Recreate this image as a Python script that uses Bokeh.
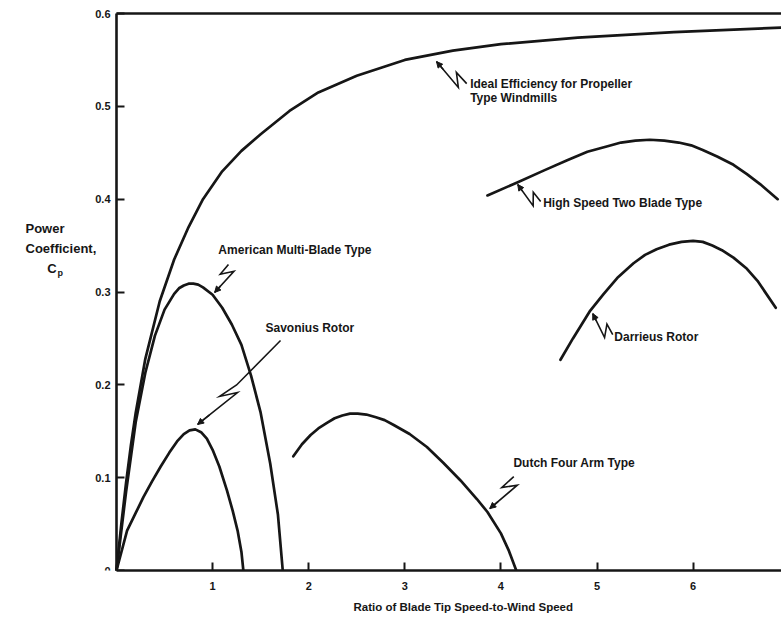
import math
from bokeh.plotting import figure
from bokeh.models import Range1d, FixedTicker, Label, Arrow, NormalHead, Title
from bokeh.embed import file_html
from bokeh.resources import INLINE

# ---------------- data ----------------
ideal_x = [0.0, 0.05, 0.1, 0.15, 0.2, 0.3, 0.45, 0.6, 0.75, 0.9, 1.1, 1.3, 1.5, 1.8, 2.1, 2.5, 3.0, 3.5, 4.0, 4.8, 5.8, 6.95]
ideal_y = [0.0, 0.05, 0.095, 0.135, 0.17, 0.228, 0.29, 0.335, 0.37, 0.40, 0.43, 0.452, 0.47, 0.495, 0.515, 0.533, 0.55, 0.56, 0.567, 0.574, 0.58, 0.585]

american_x = [0.0, 0.1, 0.2, 0.3, 0.4, 0.5, 0.6, 0.65, 0.7, 0.75, 0.8, 0.85, 0.9, 1.0, 1.1, 1.2, 1.3, 1.4, 1.5, 1.6, 1.68, 1.73]
american_y = [0.0, 0.085, 0.16, 0.213, 0.253, 0.281, 0.298, 0.304, 0.307, 0.309, 0.309, 0.308, 0.305, 0.297, 0.283, 0.265, 0.243, 0.21, 0.17, 0.115, 0.06, 0.0]

savonius_x = [0.0, 0.11, 0.2, 0.28, 0.37, 0.46, 0.55, 0.63, 0.7, 0.76, 0.82, 0.88, 0.94, 1.0, 1.07, 1.15, 1.21, 1.26, 1.3, 1.32]
savonius_y = [0.0, 0.043, 0.062, 0.079, 0.096, 0.112, 0.127, 0.139, 0.147, 0.151, 0.152, 0.149, 0.142, 0.13, 0.112, 0.086, 0.064, 0.043, 0.02, 0.0]

dutch_x = [1.84, 1.93, 2.02, 2.1, 2.19, 2.27, 2.35, 2.43, 2.51, 2.6, 2.7, 2.79, 2.88, 3.05, 3.23, 3.4, 3.58, 3.75, 3.86, 4.0, 4.08, 4.16]
dutch_y = [0.123, 0.136, 0.146, 0.153, 0.159, 0.164, 0.167, 0.169, 0.169, 0.168, 0.165, 0.162, 0.157, 0.147, 0.133, 0.116, 0.097, 0.077, 0.063, 0.04, 0.022, 0.0]

twoblade_x = [3.86, 4.17, 4.45, 4.69, 4.9, 5.11, 5.25, 5.4, 5.55, 5.7, 5.85, 5.98, 6.1, 6.25, 6.42, 6.56, 6.7, 6.88]
twoblade_y = [0.404, 0.418, 0.431, 0.442, 0.451, 0.457, 0.461, 0.463, 0.464, 0.463, 0.461, 0.458, 0.453, 0.446, 0.437, 0.427, 0.416, 0.40]

darrieus_x = [4.62, 4.75, 4.93, 5.07, 5.21, 5.38, 5.5, 5.62, 5.75, 5.88, 6.0, 6.1, 6.2, 6.3, 6.42, 6.56, 6.67, 6.86]
darrieus_y = [0.227, 0.25, 0.28, 0.298, 0.315, 0.331, 0.34, 0.346, 0.351, 0.354, 0.355, 0.354, 0.35, 0.345, 0.337, 0.325, 0.312, 0.283]

x_ticks = [1, 2, 3, 4, 5, 6]
y_ticks = [0.0, 0.1, 0.2, 0.3, 0.4, 0.5, 0.6]
y_tick_labels = ["0", "0.1", "0.2", "0.3", "0.4", "0.5", "0.6"]

x_title = "Ratio of Blade Tip Speed-to-Wind Speed"
y_title_lines = ["Power", "Coefficient,"]
y_title_symbol = ("C", "p")

label_text = ["Ideal Efficiency for Propeller", "Type Windmills", "High Speed Two Blade Type",
              "Darrieus Rotor", "American Multi-Blade Type", "Savonius Rotor", "Dutch Four Arm Type"]
label_x = [3.68, 3.68, 4.44, 5.18, 1.06, 1.55, 4.13]
label_y = [0.5245, 0.5085, 0.3955, 0.251, 0.345, 0.261, 0.1153]

# leader (squiggle arrow) tips and tails, data coordinates
leader_tip = [(3.33, 0.5482), (4.175, 0.4158), (4.956, 0.2768), (1.021, 0.2995), (0.844, 0.1573), (3.884, 0.0667)]
leader_tail = [(3.644, 0.5245), (4.414, 0.3975), (5.164, 0.2542), (1.165, 0.3297), (1.707, 0.2478), (4.134, 0.1012)]
shape_short = [(0.0, 0.0), (0.88, 8.0), (0.6, -3.0), (1.0, 0.0)]
shape_long = [(0.0, 0.0), (0.43, 6.0), (0.3, -4.0), (0.47, 0.0), (1.0, 0.0)]
leader_shape = [shape_short, shape_short, shape_short, shape_short, shape_long, shape_short]

# ---------------- layout ----------------
W, H = 781, 621
BL, BT, BB = 24, 0, 51
ORIGIN_X, ORIGIN_Y, TOP_Y = 116, 570, 13      # canvas px of data origin and of y = 0.6
PXX = 96.1                                    # px per unit x
PXY = (ORIGIN_Y - TOP_Y) / 0.6                # px per unit y
X0 = -(ORIGIN_X - BL) / PXX
X_MAX = X0 + (W - BL) / PXX
Y_TOP = 0.6 + (TOP_Y - BT) / PXY

INK = "#161616"
FONT = "Liberation Sans"

p = figure(width=W, height=H, x_range=Range1d(X0, X_MAX), y_range=Range1d(0, Y_TOP),
           output_backend="svg", toolbar_location=None,
           min_border_left=BL, min_border_right=0, min_border_top=BT, min_border_bottom=BB)
p.outline_line_color = None
p.grid.visible = False
p.background_fill_color = "white"
p.border_fill_color = "white"

for ax in (p.xaxis[0], p.yaxis[0]):
    ax.axis_line_width = 2.6
    ax.axis_line_color = INK
    ax.major_tick_in = 8
    ax.major_tick_out = 0
    ax.major_tick_line_width = 2
    ax.major_tick_line_color = INK
    ax.minor_tick_line_color = None
    ax.major_label_text_font = FONT
    ax.major_label_text_font_style = "bold"
    ax.major_label_text_font_size = "11px"
    ax.major_label_text_color = INK

p.xaxis.ticker = FixedTicker(ticks=x_ticks)
p.xaxis.major_label_standoff = 11
p.xaxis.bounds = (0, X_MAX)
p.yaxis.ticker = FixedTicker(ticks=y_ticks)
# the "0" label sits on the frame edge, so it is drawn just above it as a Label below
p.yaxis.major_label_overrides = {t: (s if t != 0 else "") for t, s in zip(y_ticks, y_tick_labels)}
p.yaxis.major_label_standoff = 6
p.yaxis.fixed_location = 0
p.yaxis.bounds = (0, 0.6)
p.add_layout(Label(x=0, y=y_ticks[0], x_offset=-6, text=y_tick_labels[0], text_font=FONT,
                   text_font_style="bold", text_font_size="11px", text_color=INK,
                   text_align="right", text_baseline="alphabetic"))

# top frame line
p.segment(x0=[0], y0=[0.6], x1=[X_MAX], y1=[0.6], line_color=INK, line_width=2.6)

for xs, ys in [(ideal_x, ideal_y), (american_x, american_y), (savonius_x, savonius_y),
               (dutch_x, dutch_y), (twoblade_x, twoblade_y), (darrieus_x, darrieus_y)]:
    p.line(xs, ys, line_color=INK, line_width=2.7, line_join="round", line_cap="round")

# squiggle leaders
lead_xs, lead_ys = [], []
for (tx, ty), (ex, ey), shape in zip(leader_tip, leader_tail, leader_shape):
    ax_, ay_ = tx * PXX, -ty * PXY
    bx_, by_ = ex * PXX, -ey * PXY
    dx, dy = bx_ - ax_, by_ - ay_
    L = math.hypot(dx, dy)
    nx, ny = -dy / L, dx / L
    px_, py_ = [], []
    for t, s in shape:
        X = ax_ + t * dx + s * nx
        Y = ay_ + t * dy + s * ny
        px_.append(X / PXX)
        py_.append(-Y / PXY)
    lead_xs.append(px_)
    lead_ys.append(py_)
    hx, hy = px_[0] + 0.3 * (px_[1] - px_[0]), py_[0] + 0.3 * (py_[1] - py_[0])
    p.add_layout(Arrow(end=NormalHead(size=6, fill_color=INK, line_color=INK, line_width=1),
                       x_start=hx, y_start=hy, x_end=tx, y_end=ty, line_color=INK, line_width=1.5))
p.multi_line(lead_xs, lead_ys, line_color=INK, line_width=1.6, line_join="miter")

for t, x, y in zip(label_text, label_x, label_y):
    p.add_layout(Label(x=x, y=y, text=t, text_font=FONT, text_font_style="bold",
                       text_font_size="12px", text_color=INK, text_baseline="middle", text_align="left"))

# y title (inside the frame, left of the fixed y axis)
for t, y in zip(y_title_lines, [0.3685, 0.347]):
    p.add_layout(Label(x=X0, y=y, x_offset=1, text=t, text_font=FONT, text_font_style="bold",
                       text_font_size="13px", text_color=INK, text_baseline="middle", text_align="left"))
p.add_layout(Label(x=-0.72, y=0.3254, text=y_title_symbol[0], text_font=FONT, text_font_style="bold",
                   text_font_size="13px", text_color=INK, text_baseline="middle", text_align="left"))
p.add_layout(Label(x=-0.615, y=0.3205, text=y_title_symbol[1], text_font=FONT, text_font_style="bold",
                   text_font_size="9px", text_color=INK, text_baseline="middle", text_align="left"))

# x title
p.add_layout(Title(text=x_title, align="left", offset=353 - BL, standoff=12, text_font=FONT,
                   text_font_style="bold", text_font_size="11.5px", text_color=INK), "below")

open("out.html", "w").write(file_html(p, INLINE))
